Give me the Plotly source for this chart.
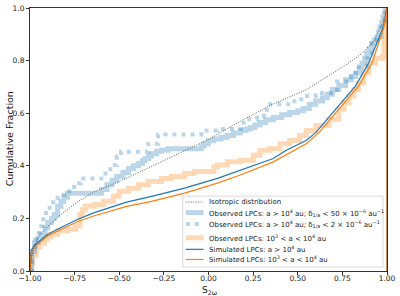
import plotly.graph_objects as go

# ---------------- data ----------------
iso_x = [-1.0, -0.995, -0.98, -0.956, -0.9, -0.827, -0.735, -0.643, -0.5, -0.25,
         0.0, 0.18, 0.36, 0.55, 0.68, 0.77, 0.86, 0.93, 0.98, 1.0]
iso_y = [0.0, 0.04, 0.09, 0.127, 0.17, 0.215, 0.262, 0.3, 0.34, 0.42,
         0.5, 0.57, 0.634, 0.69, 0.745, 0.784, 0.827, 0.877, 0.95, 1.0]

obs_wide_x = [-1.0, -0.99, -0.975, -0.955, -0.937, -0.915, -0.9, -0.88, -0.864, -0.845,
              -0.827, -0.81, -0.79, -0.6, -0.569, -0.54, -0.514, -0.48, -0.448, -0.42,
              -0.392, -0.37, -0.355, -0.335, -0.319, -0.29, -0.263, -0.227, -0.04, -0.024,
              0.0, 0.03, 0.07, 0.105, 0.14, 0.178, 0.21, 0.234, 0.26, 0.289,
              0.32, 0.363, 0.41, 0.455, 0.5, 0.53, 0.565, 0.6, 0.639, 0.665,
              0.694, 0.73, 0.768, 0.8, 0.823, 0.845, 0.86, 0.875, 0.887, 0.9,
              0.915, 0.93, 0.942, 0.952, 0.961, 0.97, 0.978, 0.985, 0.99, 1.0]
obs_wide_y = [0.0, 0.075, 0.109, 0.125, 0.14, 0.165, 0.184, 0.2, 0.215, 0.246,
              0.265, 0.28, 0.296, 0.31, 0.328, 0.345, 0.359, 0.375, 0.39, 0.4,
              0.409, 0.42, 0.428, 0.437, 0.446, 0.455, 0.459, 0.465, 0.475, 0.484,
              0.495, 0.502, 0.509, 0.515, 0.525, 0.534, 0.54, 0.546, 0.555, 0.565,
              0.575, 0.584, 0.594, 0.603, 0.609, 0.618, 0.634, 0.646, 0.659, 0.672,
              0.69, 0.705, 0.727, 0.74, 0.753, 0.77, 0.79, 0.81, 0.828, 0.845,
              0.865, 0.878, 0.89, 0.91, 0.928, 0.945, 0.965, 0.98, 0.99, 1.0]

obs_tight_x = [-1.0, -0.99, -0.97, -0.95, -0.926, -0.91, -0.89, -0.87, -0.845, -0.808,
               -0.753, -0.716, -0.6, -0.55, -0.514, -0.49, -0.337, -0.282, -0.04, 0.05,
               0.197, 0.271, 0.326, 0.46, 0.52, 0.6, 0.72, 0.8, 0.842, 0.887,
               0.915, 0.942, 0.97, 0.99, 1.0]
obs_tight_y = [0.0, 0.08, 0.12, 0.17, 0.209, 0.23, 0.253, 0.27, 0.29, 0.303,
               0.334, 0.352, 0.371, 0.403, 0.434, 0.453, 0.484, 0.519, 0.534, 0.54,
               0.577, 0.59, 0.634, 0.645, 0.665, 0.677, 0.721, 0.753, 0.778, 0.809,
               0.865, 0.89, 0.94, 0.98, 1.0]

obs_inner_x = [-1.0, -0.995, -0.985, -0.965, -0.945, -0.919, -0.9, -0.882, -0.845, -0.79,
               -0.744, -0.72, -0.707, -0.69, -0.64, -0.588, -0.532, -0.5, -0.448, -0.392,
               -0.337, -0.263, -0.208, -0.134, -0.08, 0.03, 0.05, 0.105, 0.178, 0.252,
               0.289, 0.344, 0.4, 0.455, 0.51, 0.547, 0.602, 0.676, 0.731, 0.76,
               0.787, 0.815, 0.84, 0.87, 0.897, 0.934, 0.975, 0.982, 0.99, 1.0]
obs_inner_y = [0.0, 0.03, 0.059, 0.09, 0.105, 0.121, 0.13, 0.14, 0.153, 0.159,
               0.171, 0.215, 0.234, 0.246, 0.253, 0.265, 0.284, 0.303, 0.315, 0.328,
               0.34, 0.352, 0.359, 0.371, 0.378, 0.396, 0.403, 0.415, 0.421, 0.44,
               0.459, 0.465, 0.484, 0.496, 0.515, 0.534, 0.553, 0.577, 0.615, 0.64,
               0.665, 0.69, 0.715, 0.753, 0.79, 0.809, 0.815, 0.87, 0.96, 1.0]

sim_outer_x = [-1.0, -0.998, -0.993, -0.975, -0.956, -0.93, -0.9, -0.865, -0.827, -0.78,
               -0.735, -0.643, -0.55, -0.459, -0.319, -0.134, 0.05, 0.178, 0.363, 0.436,
               0.547, 0.602, 0.713, 0.823, 0.897, 0.95, 0.975, 0.989, 1.0, 1.0]
sim_outer_y = [0.0, 0.04, 0.078, 0.098, 0.109, 0.125, 0.14, 0.152, 0.165, 0.18,
               0.196, 0.221, 0.243, 0.262, 0.284, 0.315, 0.352, 0.384, 0.428, 0.459,
               0.496, 0.527, 0.615, 0.703, 0.79, 0.877, 0.92, 0.952, 1.0, 0.0]

sim_inner_x = [-1.0, -0.998, -0.993, -0.975, -0.956, -0.93, -0.9, -0.865, -0.827, -0.78,
               -0.735, -0.643, -0.55, -0.459, -0.319, -0.134, 0.05, 0.178, 0.363, 0.547,
               0.62, 0.731, 0.84, 0.915, 0.961, 0.98, 0.992, 1.0, 1.0]
sim_inner_y = [0.0, 0.035, 0.072, 0.09, 0.103, 0.118, 0.134, 0.146, 0.159, 0.173,
               0.1875, 0.209, 0.228, 0.246, 0.265, 0.296, 0.334, 0.365, 0.415, 0.484,
               0.527, 0.615, 0.703, 0.79, 0.877, 0.92, 0.96, 1.0, 0.0]

x_ticks = [-1.0, -0.75, -0.5, -0.25, 0.0, 0.25, 0.5, 0.75, 1.0]
y_ticks = [0.0, 0.2, 0.4, 0.6, 0.8, 1.0]

legend_labels = [
    "Isotropic distribution",
    "Observed LPCs: a &gt; 10<sup>4</sup> au; δ<sub>1/a</sub> &lt; 50 × 10<sup>−6</sup> au<sup>−1</sup>",
    "Observed LPCs: a &gt; 10<sup>4</sup> au; δ<sub>1/a</sub> &lt; 2 × 10<sup>−6</sup> au<sup>−1</sup>",
    "Observed LPCs: 10<sup>3</sup> &lt; a &lt; 10<sup>4</sup> au",
    "Simulated LPCs: a &gt; 10<sup>4</sup> au",
    "Simulated LPCs: 10<sup>3</sup> &lt; a &lt; 10<sup>4</sup> au",
]

# ---------------- styles ----------------
FONT = "DejaVu Sans"
C_BLUE = "#1f77b4"
C_ORANGE = "#ff7f0e"
C_BLUE_L = "rgba(31,119,180,0.3)"
C_ORANGE_L = "rgba(255,127,14,0.3)"
styles = [
    dict(color="#333333", width=0.8, dash="1px,1.5px"),
    dict(color=C_BLUE_L, width=5),
    dict(color=C_BLUE_L, width=4, dash="4px,5px"),
    dict(color=C_ORANGE_L, width=5),
    dict(color=C_BLUE, width=1.2),
    dict(color=C_ORANGE, width=1.2),
]

fig = go.Figure()
fig.add_trace(go.Scatter(x=obs_inner_x, y=obs_inner_y, mode="lines", line=dict(shape="hv", **styles[3])))
fig.add_trace(go.Scatter(x=obs_wide_x, y=obs_wide_y, mode="lines", line=dict(shape="hv", **styles[1])))
fig.add_trace(go.Scatter(x=obs_tight_x, y=obs_tight_y, mode="lines", line=dict(shape="hv", **styles[2])))
fig.add_trace(go.Scatter(x=sim_outer_x, y=sim_outer_y, mode="lines", line=styles[4]))
fig.add_trace(go.Scatter(x=sim_inner_x, y=sim_inner_y, mode="lines", line=styles[5]))
fig.add_trace(go.Scatter(x=iso_x, y=iso_y, mode="lines", line=styles[0]))

W, H = 400, 296
L, R, T, B = 30, 8, 4, 25
PW, PH = W - L - R, H - T - B


def px2paper(px, py):
    return (px - L) / PW, (H - B - py) / PH


shapes = []
annotations = []

# legend box
x0, y0 = px2paper(185, 267)
x1, y1 = px2paper(388, 195)
shapes.append(dict(type="rect", xref="paper", yref="paper", x0=x0, y0=y0, x1=x1, y1=y1,
                   line=dict(color="#d0d0d0", width=0.8), fillcolor="rgba(255,255,255,0.85)",
                   layer="above"))
entry_y = [201, 211.7, 223.3, 237.3, 249, 259.3]
for lab, sty, ey in zip(legend_labels, styles, entry_y):
    lx0, ly = px2paper(188, ey)
    lx1, _ = px2paper(206, ey)
    shapes.append(dict(type="line", xref="paper", yref="paper", x0=lx0, x1=lx1, y0=ly, y1=ly,
                       line=sty, layer="above"))
    tx, _ = px2paper(209, ey)
    annotations.append(dict(xref="paper", yref="paper", x=tx, y=ly, xanchor="left", yanchor="middle",
                            text=lab, showarrow=False, font=dict(family=FONT, size=7, color="#222")))

# axis titles
ax, ay = px2paper(9, 137)
annotations.append(dict(xref="paper", yref="paper", x=ax, y=ay, text="Cumulative Fraction", textangle=-90,
                        showarrow=False, xanchor="center", yanchor="middle",
                        font=dict(family=FONT, size=9.5, color="#111")))
bx, by = px2paper(212, 290.5)
annotations.append(dict(xref="paper", yref="paper", x=bx, y=by, text="S<sub>2ω</sub>",
                        showarrow=False, xanchor="center", yanchor="middle",
                        font=dict(family=FONT, size=9, color="#111")))

axis_common = dict(showgrid=False, zeroline=False, showline=True, mirror=True, linecolor="#333",
                   linewidth=1, ticks="outside", ticklen=3, tickwidth=0.8, tickcolor="#333",
                   ticklabeloverflow="allow",
                   tickfont=dict(family=FONT, size=7.5, color="#222"))

fig.update_layout(
    width=W, height=H,
    margin=dict(l=L, r=R, t=T, b=B),
    paper_bgcolor="white", plot_bgcolor="white",
    showlegend=False,
    xaxis=dict(range=[-1, 1], tickvals=x_ticks, tickformat=".2f", ticklabelstandoff=-3, **axis_common),
    yaxis=dict(range=[0, 1], tickvals=y_ticks, tickformat=".1f", **axis_common),
    shapes=shapes,
    annotations=annotations,
)

fig.write_html("out.html")
